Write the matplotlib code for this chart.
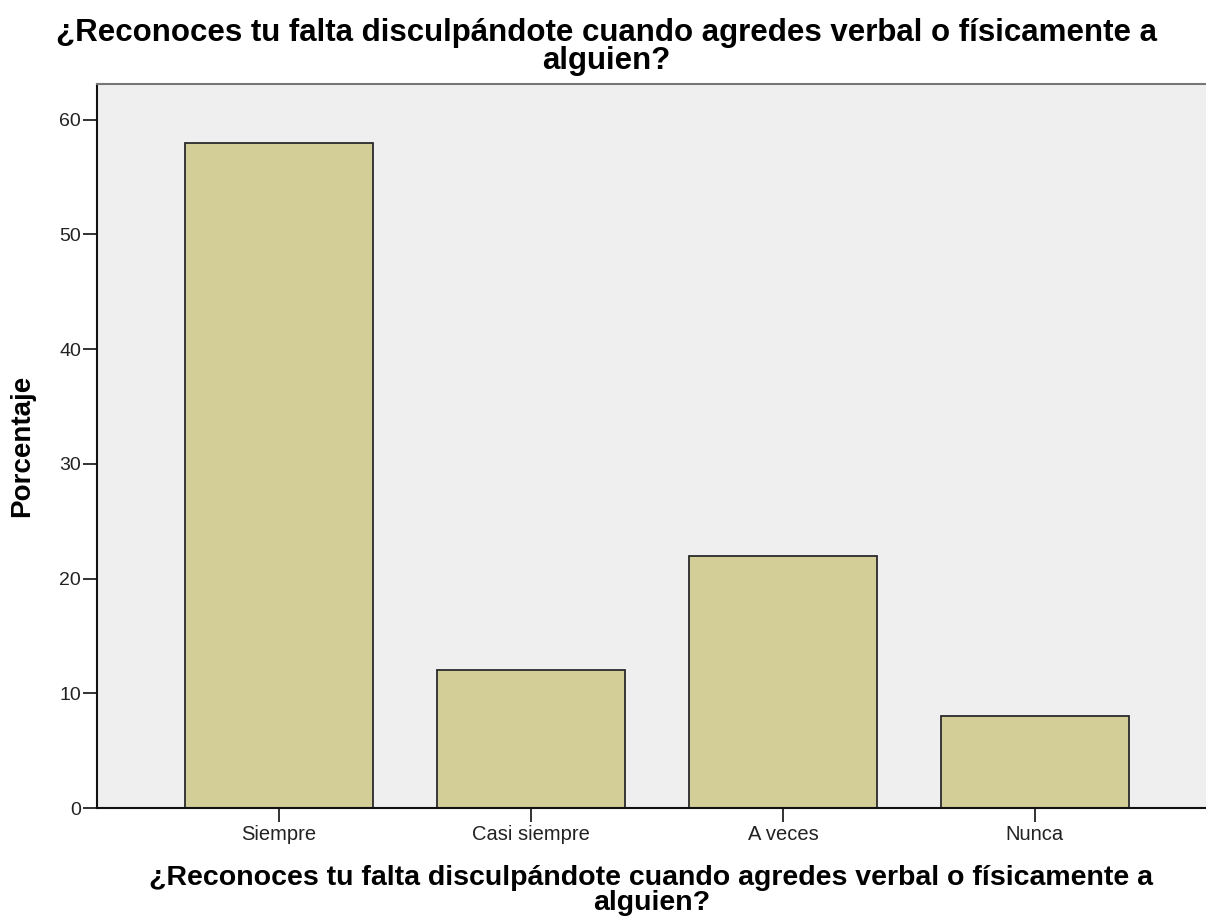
import matplotlib.pyplot as plt

plt.rcParams['font.family'] = ['Liberation Sans', 'DejaVu Sans']

categorias = ["Siempre", "Casi siempre", "A veces", "Nunca"]
porcentajes = [58, 12, 22, 8]
yticks = [0, 10, 20, 30, 40, 50, 60]
pregunta = "¿Reconoces tu falta disculpándote cuando agredes verbal o físicamente a\nalguien?"

fig = plt.figure(figsize=(12.06, 9.22), dpi=100)
ax = fig.add_axes([0.0804, 0.1236, 0.9196, 0.7853])
ax.set_facecolor("#efefef")

x = range(len(categorias))
ax.bar(x, porcentajes, width=0.746, color="#d3ce97", edgecolor="#2a2a2a", linewidth=1.3, zorder=2)

ax.set_xlim(-0.722, 3.679)
ax.set_ylim(0, 63.1)
ax.set_xticks(list(x))
ax.set_xticklabels(categorias, fontsize=14.5)
ax.set_yticks(yticks)
ax.set_yticklabels([str(v) for v in yticks], fontsize=14)
ax.tick_params(axis="y", length=10, width=1.3, pad=1.5, colors="#222222")
ax.tick_params(axis="x", length=10, width=1.3, pad=2.5, colors="#222222")

ax.spines["left"].set_color("#111111")
ax.spines["bottom"].set_color("#111111")
ax.spines["top"].set_color("#777777")
ax.spines["left"].set_linewidth(1.5)
ax.spines["bottom"].set_linewidth(1.5)
ax.spines["top"].set_linewidth(1.5)
ax.spines["right"].set_visible(False)

ax.set_ylabel("Porcentaje", fontsize=20, fontweight="bold")
ax.yaxis.set_label_coords(-0.056, 0.5)
ax.set_xlabel(pregunta, fontsize=20.5, fontweight="bold", linespacing=0.94)
ax.xaxis.set_label_coords(0.5, -0.079)
fig.text(0.503, 0.981, pregunta, ha="center", va="top", fontsize=22.5,
         fontweight="bold", linespacing=0.95)

fig.savefig("out.png", dpi=100)
